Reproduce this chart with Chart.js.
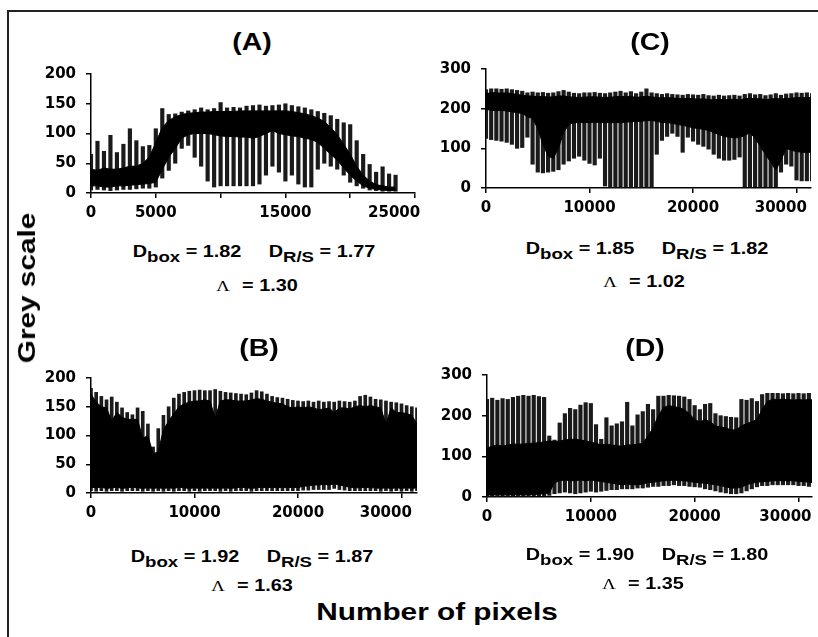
<!DOCTYPE html>
<html>
<head>
<meta charset="utf-8">
<title>Grey scale profiles</title>
<script src="https://cdn.jsdelivr.net/npm/chart.js@4.4.1/dist/chart.umd.min.js"></script>
<style>
  body { margin: 0; background: #fff; }
  #page { position: relative; width: 818px; height: 637px; overflow: hidden;
          font-family: "Liberation Sans", Arial, sans-serif; color: #000; }
  #frame { position: absolute; left: 7px; top: 10px; width: 900px; height: 700px;
           border-left: 2px solid #222; border-top: 2px solid #222; }
  canvas { position: absolute; }
  .txt { position: absolute; white-space: nowrap; font-weight: bold;
         transform: translateX(-50%) scaleX(1.24); }
  .ttl { font-size: 23px; line-height: 23px; }
  .eq { font-size: 16px; line-height: 16px; }
  .eq .sub { position: relative; top: 5px; font-size: 15px; }
  .eq .gap { display: inline-block; width: 22px; }
  .eq .lam { font-family: "Liberation Serif", serif; font-weight: normal; font-size: 15px; margin-right: 10px; }
  .axt { font-size: 24px; line-height: 24px; }
</style>
</head>
<body>
<div id="page">
  <div id="frame"></div>
  <canvas id="chartA"></canvas>
  <canvas id="chartB"></canvas>
  <canvas id="chartC"></canvas>
  <canvas id="chartD"></canvas>

  <div class="txt ttl" style="left:252px;top:31px">(A)</div>
  <div class="txt ttl" style="left:650px;top:31px">(C)</div>
  <div class="txt ttl" style="left:259px;top:337px">(B)</div>
  <div class="txt ttl" style="left:645px;top:337px">(D)</div>

  <div class="txt eq" style="left:254px;top:244px">D<span class="sub">box</span> = 1.82<span class="gap"></span>D<span class="sub">R/S</span> = 1.77</div>
  <div class="txt eq" style="left:257px;top:278px"><span class="lam">&Lambda;</span>= 1.30</div>
  <div class="txt eq" style="left:647px;top:241px">D<span class="sub">box</span> = 1.85<span class="gap"></span>D<span class="sub">R/S</span> = 1.82</div>
  <div class="txt eq" style="left:644px;top:274px"><span class="lam">&Lambda;</span>= 1.02</div>
  <div class="txt eq" style="left:252px;top:549px">D<span class="sub">box</span> = 1.92<span class="gap"></span>D<span class="sub">R/S</span> = 1.87</div>
  <div class="txt eq" style="left:252px;top:578px"><span class="lam">&Lambda;</span>= 1.63</div>
  <div class="txt eq" style="left:647px;top:547px">D<span class="sub">box</span> = 1.90<span class="gap"></span>D<span class="sub">R/S</span> = 1.80</div>
  <div class="txt eq" style="left:643px;top:576px"><span class="lam">&Lambda;</span>= 1.35</div>

  <div class="txt axt" style="left:437px;top:600px">Number of pixels</div>
  <div class="txt axt" style="left:27px;top:288px;transform:translate(-50%,-50%) rotate(-90deg) scaleX(1.24)">Grey scale</div>
</div>

<script>
// x tick values
const ticksA = [0, 5000, 10000, 15000, 20000, 25000];
const ticksLong = [0, 10000, 20000, 30000];

// sample positions (pixel index along the profile)
const xsA = [0, 500, 1000, 1500, 2000, 2500, 3000, 3500, 4000, 4500,
  5000, 5500, 6000, 6500, 7000, 7500, 8000, 8500, 9000, 9500,
  10000, 10500, 11000, 11500, 12000, 12500, 13000, 13500, 14000, 14500,
  15000, 15500, 16000, 16500, 17000, 17500, 18000, 18500, 19000, 19500,
  20000, 20500, 21000, 21500, 22000, 22500, 23000, 23500];

const xsLong = [0, 500, 1000, 1500, 2000, 2500, 3000, 3500, 4000, 4500,
  5000, 5500, 6000, 6500, 7000, 7500, 8000, 8500, 9000, 9500,
  10000, 10500, 11000, 11500, 12000, 12500, 13000, 13500, 14000, 14500,
  15000, 15500, 16000, 16500, 17000, 17500, 18000, 18500, 19000, 19500,
  20000, 20500, 21000, 21500, 22000, 22500, 23000, 23500, 24000, 24500,
  25000, 25500, 26000, 26500, 27000, 27500, 28000, 28500, 29000, 29500,
  30000, 30500, 31000, 31500];

// (A) grey values: spike top, dense band top, dense band bottom, spike bottom
const highA = [65, 87, 70, 97, 68, 82, 108, 88, 78, 80,
  108, 142, 132, 133, 136, 138, 140, 143, 140, 142,
  152, 143, 144, 143, 146, 147, 148, 146, 147, 148,
  150, 147, 145, 143, 140, 137, 134, 130, 124, 118,
  115, 88, 65, 48, 35, 44, 32, 30];
const coreHighA = [40, 38, 42, 40, 40, 42, 45, 45, 50, 60,
  85, 110, 122, 128, 132, 134, 135, 136, 136, 137,
  137, 137, 137, 138, 138, 138, 138, 138, 138, 138,
  138, 137, 135, 133, 130, 126, 120, 110, 98, 82,
  65, 45, 30, 20, 14, 12, 10, 10];
const coreLowA = [12, 12, 10, 10, 12, 12, 13, 14, 15, 16,
  18, 40, 60, 75, 92, 98, 100, 100, 100, 98,
  96, 95, 95, 94, 94, 92, 95, 100, 105, 100,
  98, 96, 95, 92, 90, 85, 75, 65, 55, 42,
  30, 20, 12, 8, 6, 5, 4, 4];
const lowA = [5, 6, 5, 4, 5, 6, 6, 7, 8, 8,
  10, 25, 38, 50, 75, 80, 60, 45, 20, 10,
  12, 12, 12, 12, 12, 12, 15, 30, 45, 35,
  20, 30, 15, 10, 10, 40, 50, 45, 40, 30,
  18, 12, 8, 5, 4, 3, 3, 3];

// (B)
const highB = [182, 175, 168, 162, 167, 158, 148, 140, 136, 148,
  142, 120, 80, 112, 135, 150, 165, 172, 175, 177,
  178, 179, 178, 178, 180, 177, 175, 174, 173, 172,
  171, 174, 178, 176, 172, 168, 166, 165, 163, 161,
  160, 159, 160, 158, 160, 158, 159, 158, 160, 159,
  158, 160, 168, 170, 167, 163, 162, 160, 158, 157,
  155, 152, 150, 148];
const coreHighB = [172, 158, 150, 148, 125, 140, 132, 128, 128, 128,
  95, 100, 68, 72, 110, 125, 138, 150, 155, 158,
  160, 160, 162, 160, 130, 160, 162, 162, 160, 160,
  160, 162, 164, 163, 160, 158, 156, 155, 150, 148,
  150, 148, 150, 148, 145, 146, 148, 140, 148, 148,
  146, 150, 152, 150, 152, 150, 148, 120, 148, 140,
  140, 138, 135, 120];
const coreLowB = [10, 9, 10, 8, 9, 10, 8, 9, 10, 9,
  8, 9, 8, 9, 8, 9, 8, 10, 9, 8,
  9, 8, 9, 8, 9, 8, 9, 8, 9, 10,
  9, 8, 9, 10, 9, 10, 9, 10, 9, 10,
  9, 12, 12, 14, 14, 15, 14, 16, 14, 12,
  10, 9, 9, 10, 9, 9, 8, 9, 8, 9,
  8, 9, 8, 9];
const lowB = [4, 3, 4, 3, 4, 4, 3, 4, 4, 4,
  3, 4, 3, 4, 3, 4, 3, 4, 4, 3,
  4, 3, 4, 4, 4, 3, 4, 3, 4, 4,
  4, 3, 4, 4, 4, 4, 4, 4, 4, 4,
  4, 5, 5, 6, 6, 6, 6, 8, 6, 5,
  4, 4, 4, 4, 4, 4, 3, 4, 3, 4,
  3, 4, 3, 4];

// (C)
const highC = [248, 250, 250, 249, 250, 248, 246, 244, 240, 242,
  240, 241, 239, 240, 243, 246, 242, 239, 238, 240,
  240, 241, 239, 238, 240, 242, 244, 240, 243, 238,
  242, 250, 240, 238, 236, 238, 236, 235, 234, 236,
  235, 234, 236, 233, 232, 234, 232, 233, 234, 232,
  236, 238, 235, 236, 233, 235, 238, 234, 237, 238,
  240, 239, 240, 238];
const coreHighC = [238, 240, 240, 239, 240, 238, 236, 234, 232, 232,
  230, 231, 229, 230, 232, 232, 230, 229, 228, 229,
  230, 230, 229, 228, 229, 230, 231, 230, 231, 228,
  230, 231, 230, 228, 227, 228, 227, 226, 225, 226,
  225, 224, 225, 223, 222, 224, 222, 223, 224, 222,
  225, 226, 225, 225, 223, 224, 226, 224, 226, 226,
  228, 228, 228, 228];
const coreLowC = [198, 196, 195, 196, 194, 192, 190, 188, 180, 175,
  150, 110, 80, 75, 100, 140, 160, 165, 165, 165,
  165, 166, 165, 165, 165, 165, 165, 166, 167, 168,
  168, 170, 170, 168, 165, 165, 163, 160, 158, 155,
  152, 150, 148, 145, 140, 135, 130, 128, 126, 128,
  132, 140, 125, 105, 85, 65, 45, 70, 100, 95,
  92, 90, 90, 90];
const lowC = [125, 122, 120, 118, 115, 110, 100, 102, 128, 60,
  40, 38, 40, 42, 46, 60, 68, 75, 80, 70,
  62, 58, 75, 5, 2, 2, 2, 2, 2, 2,
  2, 2, 2, 85, 120, 130, 138, 130, 90, 128,
  118, 110, 105, 98, 85, 75, 70, 70, 72, 78,
  3, 3, 3, 3, 3, 3, 3, 40, 60, 55,
  20, 18, 18, 18];

// (D)
const highD = [240, 243, 238, 242, 240, 245, 248, 250, 248, 250,
  247, 245, 150, 140, 182, 205, 218, 215, 226, 232,
  230, 178, 142, 195, 175, 180, 185, 233, 175, 202,
  210, 228, 215, 248, 248, 250, 249, 248, 246, 240,
  225, 215, 228, 230, 205, 200, 198, 196, 195, 240,
  238, 242, 235, 252, 255, 255, 255, 254, 255, 254,
  255, 254, 255, 253];
const coreHighD = [120, 125, 128, 125, 128, 130, 130, 130, 132, 132,
  134, 135, 138, 136, 138, 140, 142, 142, 140, 138,
  135, 132, 128, 130, 128, 126, 125, 128, 128, 130,
  132, 150, 170, 200, 220, 225, 222, 220, 215, 205,
  190, 185, 190, 185, 175, 172, 170, 165, 165, 175,
  180, 185, 190, 215, 235, 240, 240, 240, 240, 238,
  240, 238, 240, 238];
const coreLowD = [5, 5, 6, 5, 6, 5, 6, 5, 6, 6,
  7, 8, 10, 35, 40, 42, 40, 40, 42, 40,
  42, 40, 38, 36, 34, 32, 30, 32, 30, 30,
  32, 35, 36, 38, 40, 40, 42, 40, 40, 38,
  36, 35, 34, 32, 30, 28, 25, 22, 22, 24,
  30, 34, 36, 38, 38, 40, 40, 40, 40, 40,
  38, 38, 36, 35];
const lowD = [2, 2, 2, 2, 2, 2, 2, 2, 2, 3,
  3, 3, 4, 8, 10, 12, 10, 8, 10, 12,
  14, 12, 14, 16, 18, 18, 20, 20, 20, 22,
  22, 24, 26, 26, 28, 28, 30, 28, 28, 26,
  25, 24, 20, 18, 15, 12, 10, 8, 8, 10,
  15, 20, 25, 28, 28, 30, 30, 30, 30, 30,
  28, 28, 26, 25];

// plot boxes on the page (pixels) and axis setup
// lastPad: trailing spaces that pull the last x label left, as in the figure
const panels = [
  { id: 'chartA', left: 91, top: 67, right: 415, bottom: 193, xMax: 25000, xTicks: ticksA, xHide: [10000, 20000], lastPad: 8, yMax: 200, yLabel: 50, bar: 3.5,
    xs: xsA, high: highA, coreHigh: coreHighA, coreLow: coreLowA, low: lowA },
  { id: 'chartB', left: 91, top: 371, right: 417, bottom: 493, xMax: 31500, xTicks: ticksLong, xHide: [], lastPad: 6, yMax: 200, yLabel: 50, bar: 3,
    xs: xsLong, high: highB, coreHigh: coreHighB, coreLow: coreLowB, low: lowB },
  { id: 'chartC', left: 486, top: 62, right: 811, bottom: 188, xMax: 31400, xTicks: ticksLong, xHide: [], lastPad: 6, yMax: 300, yLabel: 100, bar: 3.5,
    xs: xsLong, high: highC, coreHigh: coreHighC, coreLow: coreLowC, low: lowC },
  { id: 'chartD', left: 487, top: 368, right: 812, bottom: 497, xMax: 31300, xTicks: ticksLong, xHide: [], lastPad: 5, yMax: 300, yLabel: 100, bar: 3.5,
    xs: xsLong, high: highD, coreHigh: coreHighD, coreLow: coreLowD, low: lowD }
];

const PAD_L = 60, PAD_T = 12, PAD_R = 70, PAD_B = 34;
const tickFont = { family: 'DejaVu Sans', weight: 'bold', size: 15 };

panels.forEach(p => {
  const canvas = document.getElementById(p.id);
  canvas.width = (p.right - p.left) + PAD_L + PAD_R;
  canvas.height = (p.bottom - p.top) + PAD_T + PAD_B;
  canvas.style.left = (p.left - PAD_L) + 'px';
  canvas.style.top = (p.top - PAD_T) + 'px';
  const lastTick = p.xTicks[p.xTicks.length - 1];

  new Chart(canvas, {
    type: 'bar',
    data: {
      datasets: [
        {
          type: 'bar',
          data: p.xs.map((x, i) => ({ x, y: [p.low[i], p.high[i]] })),
          backgroundColor: '#1a1a1a',
          barThickness: p.bar,
          order: 2
        },
        {
          type: 'line',
          data: p.xs.map((x, i) => ({ x, y: p.coreHigh[i] })),
          borderColor: '#000',
          backgroundColor: '#000',
          borderWidth: 1,
          pointRadius: 0,
          tension: 0,
          fill: '+1',
          order: 1
        },
        {
          type: 'line',
          data: p.xs.map((x, i) => ({ x, y: p.coreLow[i] })),
          borderColor: '#000',
          borderWidth: 1,
          pointRadius: 0,
          tension: 0,
          fill: false,
          order: 1
        }
      ]
    },
    options: {
      responsive: false,
      animation: false,
      events: [],
      layout: { padding: { top: PAD_T, right: PAD_R, left: 0, bottom: 0 } },
      plugins: { legend: { display: false }, tooltip: { enabled: false } },
      scales: {
        x: {
          type: 'linear',
          min: 0,
          max: p.xMax,
          offset: false,
          grid: { offset: false, drawOnChartArea: false, drawTicks: true, tickLength: 5, color: '#000', lineWidth: 1.5 },
          border: { color: '#000', width: 1.5 },
          ticks: {
            autoSkip: false,
            maxRotation: 0,
            padding: 6,
            color: '#000',
            font: tickFont,
            callback: v => {
              if (p.xHide.includes(v)) return '';
              return v === lastTick ? String(v) + ' '.repeat(p.lastPad) : String(v);
            }
          },
          afterBuildTicks: s => { s.ticks = p.xTicks.map(v => ({ value: v })); },
          afterFit: s => { s.height = PAD_B; }
        },
        y: {
          min: 0,
          max: p.yMax,
          grid: { drawOnChartArea: false, drawTicks: true, tickLength: 5, color: '#000', lineWidth: 1.5 },
          border: { color: '#000', width: 1.5 },
          ticks: {
            stepSize: 50,
            padding: 10,
            color: '#000',
            font: tickFont,
            callback: v => (v % p.yLabel === 0 ? String(v) : '')
          },
          afterFit: s => { s.width = PAD_L; }
        }
      }
    }
  });
});
</script>
</body>
</html>
